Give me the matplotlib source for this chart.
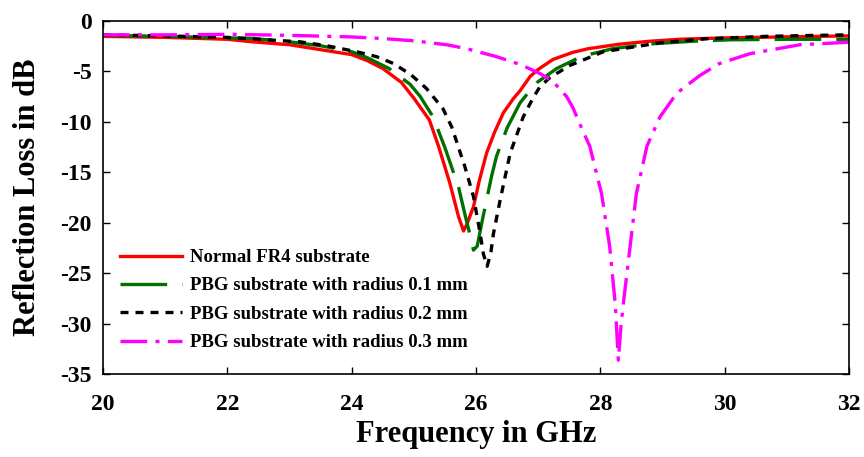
import matplotlib
matplotlib.use("Agg")
import matplotlib.pyplot as plt

# Values (frequency in GHz, reflection loss in dB)
freq_fr4 = [20.0, 21.0, 22.0, 22.4, 23.0, 23.4, 24.0, 24.25, 24.5, 24.8, 25.0, 25.25, 25.4, 25.58,
            25.72, 25.8, 25.85, 25.96, 26.05, 26.17, 26.3, 26.44, 26.6, 26.71, 26.87, 27.0,
            27.24, 27.56, 27.8, 28.3, 28.8, 29.3, 30.0, 31.0, 32.0]
loss_fr4 = [-1.52, -1.62, -1.81, -2.06, -2.35, -2.74, -3.33, -3.92, -4.7, -6.08, -7.64, -9.8, -12.45, -16.07,
            -19.4, -20.8, -20.2, -18.4, -15.9, -13.1, -11.0, -9.1, -7.7, -6.9, -5.5, -4.8,
            -3.8, -3.1, -2.75, -2.3, -2.0, -1.8, -1.67, -1.57, -1.47]

freq_r01 = [20.0, 21.0, 22.0, 22.4, 23.0, 23.5, 24.0, 24.25, 24.6, 24.94, 25.1, 25.31, 25.5, 25.72,
            25.82, 25.9, 25.96, 26.02, 26.1, 26.25, 26.33, 26.5, 26.71, 26.92, 26.98, 27.3,
            27.7, 28.2, 28.85, 29.5, 30.1, 31.0, 32.0]
loss_r01 = [-1.42, -1.52, -1.67, -1.72, -2.06, -2.45, -3.04, -3.63, -4.7, -6.27, -7.45, -9.5, -12.54, -16.46,
            -19.1, -21.1, -22.7, -22.3, -19.8, -15.4, -13.4, -10.6, -8.1, -6.5, -6.1, -4.7,
            -3.5, -2.74, -2.25, -2.0, -1.86, -1.81, -1.81]

freq_r02 = [20.0, 21.0, 22.0, 23.17, 23.6, 24.08, 24.4, 24.67, 24.95, 25.2, 25.47, 25.61, 25.82,
            25.96, 26.06, 26.12, 26.18, 26.24, 26.28, 26.39, 26.55, 26.76, 26.92, 27.03, 27.19,
            27.51, 28.05, 28.96, 29.7, 30.67, 31.5, 32.0]
loss_r02 = [-1.37, -1.47, -1.62, -2.06, -2.45, -3.04, -3.53, -4.2, -5.3, -6.66, -8.7, -10.5, -14.4,
            -17.4, -20.8, -23.1, -24.3, -22.9, -21.1, -17.7, -13.1, -9.5, -7.6, -6.5, -5.6,
            -4.4, -3.04, -2.16, -1.76, -1.52, -1.42, -1.37]

freq_r03 = [20.0, 21.0, 22.1, 23.0, 23.97, 24.46, 25.0, 25.53, 25.85, 26.33, 26.71, 27.03, 27.24,
            27.46, 27.56, 27.67, 27.83, 28.02, 28.15, 28.24, 28.29, 28.33, 28.37, 28.48, 28.58,
            28.75, 28.96, 29.23, 29.6, 29.92, 30.41, 31.21, 32.0]
loss_r03 = [-1.37, -1.37, -1.32, -1.42, -1.57, -1.72, -1.96, -2.35, -2.74, -3.53, -4.3, -5.2, -6.0,
            -7.5, -8.6, -10.2, -12.4, -17.1, -22.3, -28.0, -33.6, -30.4, -28.0, -22.3, -17.1,
            -12.4, -9.5, -7.15, -5.4, -4.2, -3.23, -2.35, -2.1]

labels = ["Normal FR4 substrate",
          "PBG substrate with radius 0.1 mm",
          "PBG substrate with radius 0.2 mm",
          "PBG substrate with radius 0.3 mm"]
x_ticks = [20, 22, 24, 26, 28, 30, 32]
y_ticks = [0, -5, -10, -15, -20, -25, -30, -35]

plt.rcParams["font.family"] = ["Liberation Serif", "DejaVu Serif"]
plt.rcParams["font.weight"] = "bold"
plt.rcParams["axes.unicode_minus"] = False

fig, ax = plt.subplots(figsize=(8.64, 4.57), dpi=100)
fig.subplots_adjust(left=0.1192, right=0.9826, top=0.954, bottom=0.181)

lw = 2.4
ax.plot(freq_fr4, loss_fr4, color="#ff0000", lw=lw, label=labels[0])
ax.plot(freq_r01, loss_r01, color="#007000", lw=lw, dashes=(14, 4.5), label=labels[1])
ax.plot(freq_r02, loss_r02, color="black", lw=lw, dashes=(2.4, 2.1), label=labels[2])
ax.plot(freq_r03, loss_r03, color="#ff00ff", lw=lw, dashes=(8, 2.5, 1.2, 2.5), label=labels[3])

ax.set_xlim(20, 32)
ax.set_ylim(-35, 0)
ax.set_xticks(x_ticks)
ax.set_yticks(y_ticks)
ax.tick_params(direction="in", top=True, right=True, labelsize=17, length=5, width=1)
ax.tick_params(axis="x", pad=14)
ax.tick_params(axis="y", pad=8)
for lab in ax.get_xticklabels() + ax.get_yticklabels():
    lab.set_fontweight("bold")
for sp in ax.spines.values():
    sp.set_linewidth(1.2)

ax.set_xlabel("Frequency in GHz", fontsize=22, fontweight="bold", labelpad=4)
ax.set_ylabel("Reflection Loss in dB", fontsize=22, fontweight="bold", labelpad=13)

ax.legend(loc="lower left", bbox_to_anchor=(0.013, 0.044), frameon=False,
          prop={"size": 13.5, "weight": "bold"}, handlelength=3.3, handletextpad=0.4,
          labelspacing=0.6, borderaxespad=0.0)

fig.savefig("out.png", dpi=100)
